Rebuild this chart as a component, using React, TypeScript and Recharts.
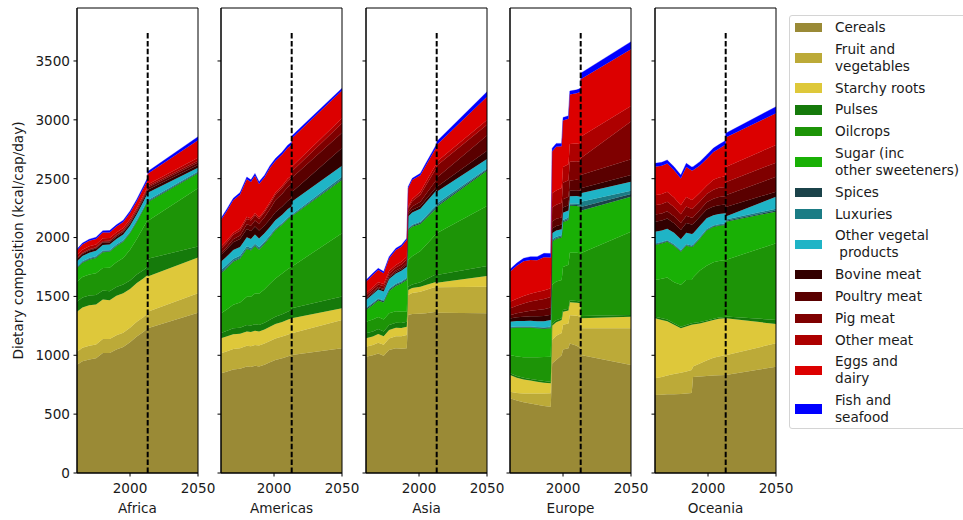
import React from 'react';
import { AreaChart, Area, XAxis, YAxis, ReferenceLine, ReferenceArea } from 'recharts';

// ---------- categories & colours ----------
const categories = [
  'Cereals', 'Fruit and\nvegetables', 'Starchy roots', 'Pulses', 'Oilcrops',
  'Sugar (inc\nother sweeteners)', 'Spices', 'Luxuries', 'Other vegetal\n products',
  'Bovine meat', 'Poultry meat', 'Pig meat', 'Other meat', 'Eggs and\ndairy', 'Fish and\nseafood',
];
const colors = [
  '#9a8a36', '#bcaa38', '#dec83a', '#157a0b', '#1d9407', '#19b005', '#1b434a', '#1b7c85',
  '#1fb4c6', '#320000', '#5a0000', '#7f0000', '#ad0000', '#dc0000', '#0000ff',
];
const KEYS = categories.map((_, i) => 'c' + i);

const yTicks = [0, 500, 1000, 1500, 2000, 2500, 3000, 3500];
const xTicks = [2000, 2050];
const xDomain = [1961, 2050];
const yDomain = [0, 3950];
const baseYear = 2013;
const baseLineTop = 3750;

// ---------- Africa ----------
const africaYears = [1961, 1965, 1970, 1975, 1980, 1985, 1990, 1995, 2000, 2005, 2010, 2013, 2013, 2050];
const africaValues = [
  [920, 950, 965, 975, 1020, 1020, 1050, 1070, 1110, 1160, 1200, 1230, 1230, 1362],
  [110, 113, 115, 117, 118, 118, 120, 122, 124, 125, 126, 127, 140, 165],
  [340, 342, 345, 340, 335, 330, 335, 335, 330, 330, 328, 325, 300, 303],
  [85, 85, 82, 80, 78, 76, 76, 74, 72, 72, 71, 71, 150, 93],
  [170, 175, 180, 185, 190, 200, 210, 225, 260, 300, 365, 397, 320, 496],
  [115, 120, 125, 130, 135, 135, 135, 138, 140, 145, 150, 155, 160, 127],
  [5, 5, 5, 5, 5, 5, 5, 5, 5, 5, 5, 6, 6, 6],
  [8, 8, 9, 9, 9, 9, 9, 9, 9, 9, 9, 9, 10, 10],
  [45, 45, 46, 46, 47, 47, 48, 48, 50, 52, 55, 58, 65, 30],
  [18, 18, 19, 19, 20, 19, 19, 19, 20, 20, 21, 22, 25, 25],
  [5, 6, 6, 7, 8, 9, 10, 10, 11, 12, 13, 14, 20, 20],
  [4, 4, 4, 4, 5, 5, 5, 5, 5, 6, 6, 6, 10, 15],
  [25, 25, 25, 24, 24, 23, 22, 22, 20, 18, 15, 12, 15, 25],
  [40, 44, 46, 47, 48, 48, 49, 50, 52, 54, 56, 57, 90, 150],
  [12, 13, 14, 15, 16, 16, 15, 16, 17, 18, 20, 21, 20, 30],
];

// ---------- Americas ----------
const americasYears = [1961, 1965, 1970, 1975, 1980, 1983, 1986, 1989, 1993, 1997, 2001, 2006, 2010, 2013, 2013, 2050];
const americasValues = [
  [847, 860, 880, 885, 905, 900, 910, 905, 920, 940, 960, 975, 990, 1002, 1002, 1059],
  [170, 172, 174, 175, 177, 177, 178, 178, 180, 182, 183, 184, 185, 185, 185, 241],
  [127, 127, 125, 122, 120, 120, 120, 118, 118, 120, 122, 124, 126, 127, 127, 100],
  [45, 47, 50, 52, 55, 55, 56, 56, 58, 60, 63, 66, 69, 71, 85, 100],
  [168, 180, 200, 215, 240, 245, 260, 265, 285, 305, 325, 345, 360, 368, 354, 536],
  [340, 350, 365, 370, 405, 392, 402, 375, 385, 395, 410, 415, 425, 427, 427, 453],
  [8, 8, 8, 8, 7, 7, 7, 7, 7, 7, 6, 6, 6, 6, 6, 8],
  [20, 20, 19, 18, 17, 16, 15, 14, 12, 10, 9, 8, 8, 8, 8, 20],
  [70, 72, 74, 75, 77, 75, 77, 75, 72, 70, 70, 70, 71, 71, 111, 94],
  [60, 62, 65, 68, 70, 68, 68, 66, 65, 66, 68, 70, 70, 70, 80, 150],
  [15, 18, 25, 30, 40, 45, 52, 58, 70, 85, 100, 110, 118, 120, 120, 130],
  [35, 36, 38, 40, 45, 45, 44, 40, 42, 45, 48, 50, 53, 55, 57, 80],
  [18, 18, 18, 18, 18, 17, 17, 16, 16, 16, 16, 17, 18, 18, 40, 42],
  [226, 250, 275, 288, 320, 310, 320, 283, 280, 290, 270, 265, 262, 260, 239, 236],
  [16, 17, 18, 18, 19, 18, 19, 19, 20, 20, 21, 22, 23, 24, 22, 20],
];

// ---------- Asia ----------
const asiaYears = [1961, 1966, 1970, 1974, 1978, 1983, 1987, 1991, 1992, 1995, 2001, 2005, 2010, 2013, 2013, 2050];
const asiaValues = [
  [988, 1000, 1015, 995, 1045, 1060, 1055, 1059, 1342, 1350, 1352, 1358, 1366, 1370, 1362, 1357],
  [85, 88, 92, 94, 98, 102, 106, 113, 170, 178, 188, 196, 207, 213, 215, 226],
  [71, 72, 73, 72, 72, 72, 71, 71, 43, 43, 43, 42, 42, 42, 40, 91],
  [43, 43, 43, 42, 42, 42, 42, 42, 28, 30, 38, 48, 58, 65, 65, 85],
  [98, 100, 102, 100, 100, 98, 95, 85, 227, 240, 265, 290, 325, 346, 354, 509],
  [100, 125, 140, 145, 190, 215, 240, 270, 254, 250, 230, 225, 218, 213, 224, 300],
  [10, 10, 10, 10, 10, 10, 10, 10, 8, 9, 9, 10, 10, 10, 10, 10],
  [8, 8, 8, 8, 8, 8, 8, 8, 6, 8, 10, 13, 16, 18, 20, 9],
  [67, 72, 75, 76, 82, 87, 90, 95, 100, 105, 110, 115, 122, 127, 99, 81],
  [12, 12, 12, 12, 13, 14, 14, 15, 20, 22, 24, 26, 28, 30, 40, 70],
  [8, 9, 10, 10, 11, 12, 13, 15, 20, 28, 35, 45, 55, 60, 80, 130],
  [20, 21, 22, 22, 24, 26, 28, 30, 30, 45, 60, 75, 90, 100, 100, 90],
  [17, 18, 19, 19, 20, 21, 22, 24, 14, 20, 25, 30, 35, 37, 36, 41],
  [98, 104, 103, 91, 108, 127, 128, 142, 157, 160, 140, 138, 140, 141, 141, 198],
  [15, 15, 15, 15, 15, 15, 15, 15, 13, 15, 17, 20, 22, 23, 29, 42],
];

// ---------- Europe ----------
const europeYears = [1961, 1966, 1971, 1976, 1981, 1986, 1991, 1992, 1995, 1999, 2000, 2004, 2005, 2010, 2013, 2013, 2050];
const europeValues = [
  [634, 615, 600, 590, 580, 570, 563, 930, 960, 1000, 1050, 1060, 1100, 1080, 1060, 1002, 917],
  [57, 65, 75, 85, 95, 105, 114, 200, 205, 190, 210, 210, 240, 255, 268, 227, 312],
  [142, 130, 120, 110, 100, 92, 85, 120, 115, 110, 110, 110, 110, 112, 114, 85, 99],
  [14, 14, 14, 14, 14, 14, 14, 20, 17, 15, 15, 15, 15, 14, 14, 20, 14],
  [155, 165, 175, 185, 195, 205, 212, 330, 330, 325, 365, 375, 405, 410, 410, 532, 708],
  [227, 245, 250, 250, 245, 240, 241, 365, 360, 360, 380, 380, 400, 398, 396, 362, 297],
  [5, 5, 5, 5, 5, 5, 6, 8, 8, 8, 8, 8, 8, 8, 8, 32, 23],
  [6, 6, 6, 6, 6, 6, 10, 12, 12, 12, 12, 12, 12, 12, 12, 45, 28],
  [45, 46, 47, 48, 50, 52, 55, 51, 52, 50, 60, 60, 60, 63, 65, 71, 77],
  [28, 32, 36, 39, 42, 44, 45, 40, 40, 40, 45, 45, 50, 50, 50, 42, 57],
  [28, 33, 40, 46, 52, 57, 60, 60, 60, 60, 70, 72, 85, 88, 90, 114, 133],
  [57, 64, 72, 78, 84, 88, 90, 120, 120, 125, 140, 140, 160, 158, 155, 141, 320],
  [57, 60, 64, 67, 70, 72, 74, 120, 120, 125, 135, 135, 150, 150, 150, 184, 133],
  [255, 280, 294, 286, 269, 283, 261, 354, 373, 355, 395, 388, 420, 428, 447, 487, 482],
  [20, 23, 26, 29, 31, 33, 35, 28, 28, 25, 25, 25, 30, 29, 29, 52, 64],
];

// ---------- Oceania ----------
const oceaniaYears = [1961, 1966, 1970, 1975, 1980, 1984, 1988, 1989, 1994, 1999, 2004, 2008, 2013, 2013, 2050];
const oceaniaValues = [
  [663, 665, 668, 670, 672, 675, 680, 815, 820, 825, 828, 830, 833, 833, 903],
  [142, 150, 160, 170, 180, 188, 195, 90, 110, 130, 150, 160, 169, 167, 199],
  [509, 485, 462, 420, 378, 382, 385, 357, 340, 330, 322, 320, 312, 314, 164],
  [14, 14, 13, 13, 12, 12, 12, 12, 12, 11, 11, 11, 11, 16, 34],
  [312, 336, 357, 347, 358, 383, 368, 386, 438, 464, 479, 479, 485, 480, 651],
  [297, 300, 305, 310, 280, 290, 280, 265, 270, 300, 300, 300, 297, 325, 269],
  [5, 5, 5, 5, 5, 5, 5, 5, 5, 5, 5, 5, 5, 8, 10],
  [8, 8, 8, 8, 8, 8, 8, 8, 8, 8, 8, 8, 8, 10, 15],
  [100, 97, 97, 97, 92, 97, 97, 97, 97, 92, 87, 87, 86, 25, 102],
  [85, 85, 86, 82, 80, 84, 80, 80, 77, 74, 74, 74, 74, 82, 43],
  [60, 60, 62, 60, 58, 61, 58, 58, 58, 60, 66, 70, 70, 100, 126],
  [80, 80, 81, 78, 75, 78, 75, 75, 72, 70, 76, 80, 80, 110, 120],
  [85, 85, 86, 80, 77, 82, 77, 77, 73, 71, 84, 86, 90, 130, 150],
  [242, 240, 239, 232, 226, 255, 249, 246, 233, 228, 236, 245, 270, 250, 270],
  [29, 30, 30, 30, 30, 31, 31, 31, 32, 33, 34, 35, 35, 36, 56],
];

const regionNames = ['Africa', 'Americas', 'Asia', 'Europe', 'Oceania'];
const regionYears = [africaYears, americasYears, asiaYears, europeYears, oceaniaYears];
const regionValues = [africaValues, americasValues, asiaValues, europeValues, oceaniaValues];

// ---------- layout ----------
const FONT = '"DejaVu Sans", sans-serif';
const FS = 13.6;
const TEXT = '#1a1a1a';
const plotLefts = [77, 221, 366, 510, 655];
const PLOT_W = 121;
const Y_AXIS_W = 77;
const RIGHT_PAD = 22;
const TOP = 8;
const X_AXIS_H = 47;
const CHART_H = 520;

function buildRows(years: number[], values: number[][]) {
  return years.map((year, i) => {
    const row: Record<string, number> = { year };
    values.forEach((series, k) => {
      row[KEYS[k]] = series[i];
    });
    return row;
  });
}

function Panel({ idx }: { idx: number }) {
  const data = buildRows(regionYears[idx], regionValues[idx]);
  const showYLabels = idx === 0;
  const tickStyle = { fontSize: FS, fontFamily: FONT, fill: TEXT };
  return (
    <div style={{ position: 'absolute', left: plotLefts[idx] - Y_AXIS_W, top: 0 }}>
      <AreaChart
        width={Y_AXIS_W + PLOT_W + RIGHT_PAD}
        height={CHART_H}
        data={data}
        margin={{ top: TOP, right: RIGHT_PAD, bottom: 0, left: 0 }}
      >
        <XAxis
          dataKey="year"
          type="number"
          domain={xDomain}
          ticks={xTicks}
          allowDataOverflow
          height={X_AXIS_H}
          tickSize={3.5}
          tickMargin={7}
          tick={tickStyle}
          axisLine={{ stroke: '#000', strokeWidth: 1 }}
          tickLine={{ stroke: '#000', strokeWidth: 1 }}
          label={{ value: regionNames[idx], position: 'insideBottom', offset: 7, fontSize: FS, fontFamily: FONT, fill: TEXT }}
        />
        <YAxis
          type="number"
          domain={yDomain}
          ticks={yTicks}
          allowDataOverflow
          width={Y_AXIS_W}
          tickSize={3.5}
          tickMargin={3.5}
          tick={tickStyle}
          tickFormatter={(v: number) => (showYLabels ? String(v) : '')}
          axisLine={{ stroke: '#000', strokeWidth: 1 }}
          tickLine={{ stroke: '#000', strokeWidth: 1 }}
        />
        {KEYS.map((k, i) => (
          <Area
            key={k}
            type="linear"
            dataKey={k}
            stackId="s"
            stroke={colors[i]}
            strokeWidth={0.3}
            fill={colors[i]}
            fillOpacity={1}
            dot={false}
            activeDot={false}
            isAnimationActive={false}
          />
        ))}
        <ReferenceLine
          segment={[{ x: baseYear, y: 0 }, { x: baseYear, y: baseLineTop }]}
          stroke="#000"
          strokeWidth={2}
          strokeDasharray="5.5 2.4"
        />
        <ReferenceArea
          x1={xDomain[0]}
          x2={xDomain[1]}
          y1={yDomain[0]}
          y2={yDomain[1]}
          fill="none"
          fillOpacity={0}
          stroke="#000"
          strokeWidth={1}
          strokeOpacity={1}
        />
      </AreaChart>
    </div>
  );
}

function LegendBox() {
  return (
    <div
      style={{
        position: 'absolute',
        left: 789,
        top: 15,
        width: 200,
        height: 414,
        boxSizing: 'border-box',
        border: '1px solid #d4d4d4',
        borderRadius: 3,
        background: '#fff',
        padding: '3px 0 0 5px',
        fontFamily: FONT,
        fontSize: FS,
        color: TEXT,
      }}
    >
      {categories.map((c, i) => (
        <div key={c} style={{ display: 'flex', alignItems: 'center', marginBottom: 4.8 }}>
          <div style={{ width: 27, height: 9.5, background: colors[i], marginRight: 13, flexShrink: 0 }} />
          <div style={{ whiteSpace: 'pre', lineHeight: '17px' }}>{c}</div>
        </div>
      ))}
    </div>
  );
}

export default function App() {
  return (
    <div style={{ position: 'absolute', left: 0, top: 0, width: 963, height: 520, overflow: 'hidden', background: '#fff' }}>
      {regionNames.map((_, i) => (
        <Panel key={i} idx={i} />
      ))}
      <svg style={{ position: 'absolute', left: 0, top: 0 }} width={30} height={520}>
        <text
          x={0}
          y={0}
          transform="translate(17.5,240.5) rotate(-90)"
          textAnchor="middle"
          dominantBaseline="central"
          fontFamily={FONT}
          fontSize={FS}
          fill={TEXT}
        >
          Dietary composition (kcal/cap/day)
        </text>
      </svg>
      <LegendBox />
    </div>
  );
}
